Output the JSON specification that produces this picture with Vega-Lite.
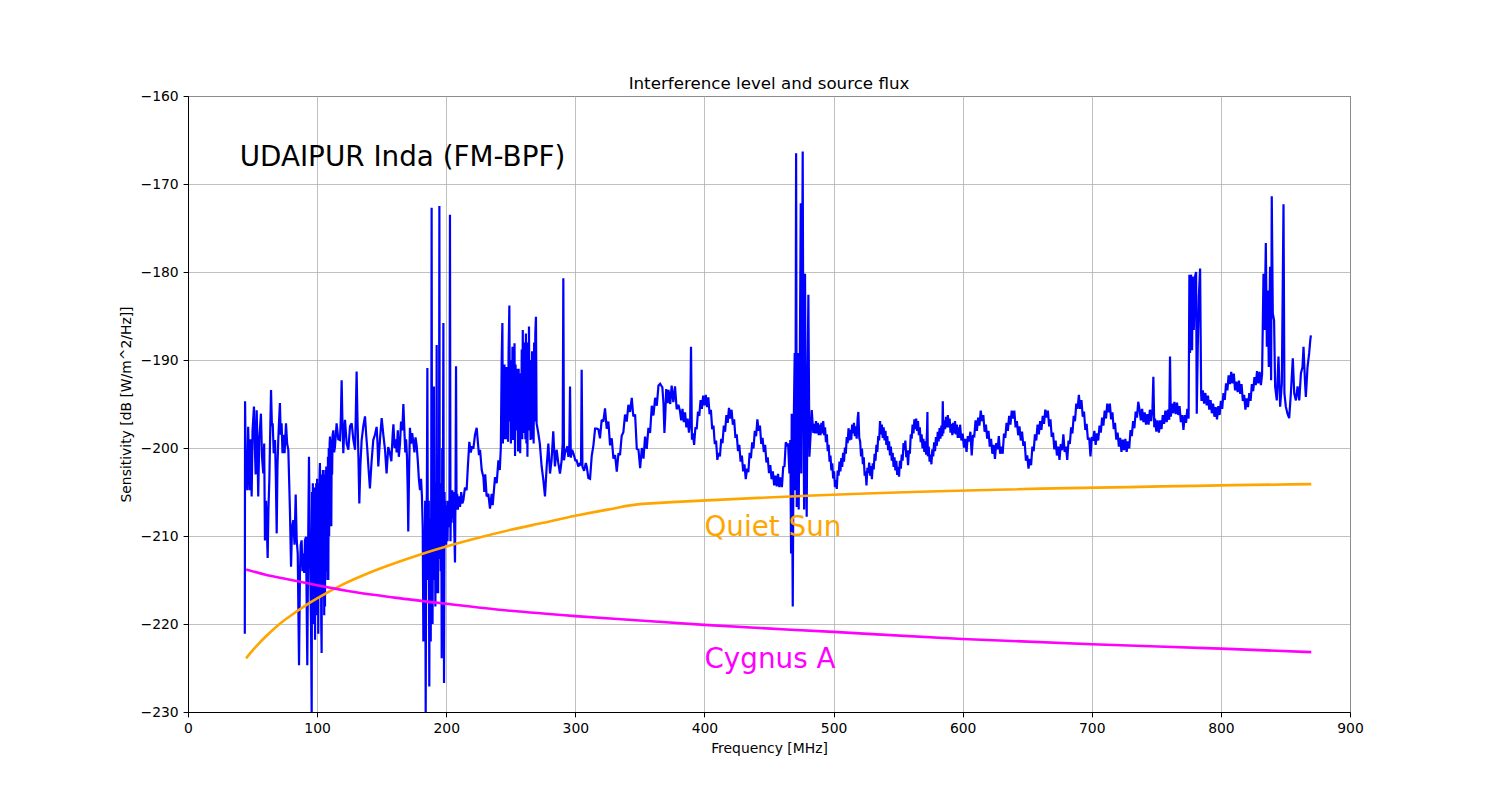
{
"$schema":"https://vega.github.io/schema/vega-lite/v6.json",
"width":1162,"height":616,
"autosize":{"type":"none"},
"padding":{"left":188,"top":96,"right":150,"bottom":88},
"background":"white",
"config":{"font":"DejaVu Sans","view":{"stroke":"black","strokeWidth":1}},
"title":{"text":"Interference level and source flux","fontSize":16.7,"fontWeight":"normal","color":"black","font":"DejaVu Sans","baseline":"alphabetic","offset":7,"dy":24},
"datasets":{
"blue":[
{"f":44.0,"v":-221.1},{"f":44.2,"v":-194.7},{"f":44.8,"v":-203},{"f":45.4,"v":-201.0},{"f":45.9,"v":-204.8},{"f":46.6,"v":-197.6},{"f":47.2,"v":-201.5},{"f":47.8,"v":-204.8},{"f":48.5,"v":-199},{"f":49.3,"v":-205.5},{"f":50.0,"v":-198},{"f":51.1,"v":-195.3},{"f":51.7,"v":-199.5},{"f":52.4,"v":-203},{"f":53.2,"v":-195.7},{"f":53.8,"v":-200},{"f":54.4,"v":-205.5},{"f":55.2,"v":-199},{"f":56.5,"v":-196.1},{"f":57.3,"v":-201},{"f":58.3,"v":-202.9},{"f":59.0,"v":-199.5},{"f":59.6,"v":-210.5},{"f":60.5,"v":-206},{"f":61.7,"v":-212.5},{"f":62.3,"v":-207},{"f":63.0,"v":-203.6},{"f":63.7,"v":-198},{"f":64.3,"v":-193.4},{"f":65.0,"v":-197.5},{"f":65.6,"v":-197.2},{"f":66.4,"v":-200.6},{"f":67.4,"v":-199.1},{"f":68.0,"v":-203},{"f":68.7,"v":-209.7},{"f":69.3,"v":-202},{"f":69.9,"v":-199.1},{"f":70.5,"v":-197},{"f":71.2,"v":-194.9},{"f":71.8,"v":-198.5},{"f":72.5,"v":-197.2},{"f":73.2,"v":-200.6},{"f":73.8,"v":-198.5},{"f":74.8,"v":-200.6},{"f":75.9,"v":-197.2},{"f":76.8,"v":-199.5},{"f":77.7,"v":-200.2},{"f":78.4,"v":-204},{"f":79.0,"v":-207.4},{"f":79.8,"v":-213.5},{"f":80.6,"v":-209},{"f":81.6,"v":-208.2},{"f":82.5,"v":-211},{"f":83.4,"v":-205.3},{"f":84.2,"v":-210.5},{"f":85.0,"v":-212},{"f":86.0,"v":-224.7},{"f":86.7,"v":-214.2},{"f":87.3,"v":-211},{"f":88.0,"v":-210.5},{"f":88.7,"v":-214},{"f":89.3,"v":-212},{"f":90.0,"v":-214.2},{"f":90.6,"v":-210.5},{"f":91.4,"v":-210.1},{"f":92.4,"v":-224.7},{"f":93.0,"v":-212},{"f":93.7,"v":-201},{"f":94.2,"v":-208},{"f":94.7,"v":-214.2},{"f":95.3,"v":-220},{"f":95.8,"v":-230.5},{"f":96.1,"v":-205},{"f":96.4,"v":-218},{"f":96.7,"v":-204},{"f":97.0,"v":-220},{"f":97.3,"v":-205.9},{"f":97.7,"v":-215},{"f":98.0,"v":-204.5},{"f":98.4,"v":-221.8},{"f":98.7,"v":-206},{"f":99.0,"v":-219},{"f":99.3,"v":-204},{"f":99.7,"v":-216},{"f":100.0,"v":-203.5},{"f":100.3,"v":-219},{"f":100.6,"v":-205},{"f":100.9,"v":-221.1},{"f":101.2,"v":-204},{"f":101.6,"v":-217},{"f":101.9,"v":-203},{"f":102.2,"v":-201.7},{"f":102.6,"v":-215},{"f":102.9,"v":-204},{"f":103.2,"v":-220},{"f":103.5,"v":-223.3},{"f":103.8,"v":-203},{"f":104.2,"v":-214},{"f":104.5,"v":-202.5},{"f":104.8,"v":-217},{"f":105.1,"v":-203},{"f":105.5,"v":-219},{"f":105.8,"v":-204},{"f":106.1,"v":-218},{"f":106.4,"v":-202.5},{"f":106.8,"v":-214},{"f":107.1,"v":-202.1},{"f":107.4,"v":-212},{"f":107.7,"v":-203},{"f":108.0,"v":-215},{"f":108.4,"v":-201},{"f":108.7,"v":-215},{"f":109.0,"v":-200},{"f":109.3,"v":-210},{"f":109.7,"v":-199.5},{"f":110.0,"v":-198.7},{"f":110.3,"v":-206},{"f":110.6,"v":-200},{"f":111.0,"v":-208.9},{"f":111.3,"v":-199},{"f":111.6,"v":-203},{"f":112.0,"v":-198.5},{"f":112.6,"v":-198},{"f":113.2,"v":-200.5},{"f":113.8,"v":-199.9},{"f":114.5,"v":-198.5},{"f":115.1,"v":-197.2},{"f":116.4,"v":-199},{"f":117.7,"v":-199.1},{"f":118.4,"v":-196.5},{"f":119.0,"v":-192.3},{"f":119.6,"v":-197},{"f":120.3,"v":-200.6},{"f":121.0,"v":-198},{"f":121.6,"v":-196.8},{"f":122.9,"v":-199.5},{"f":124.2,"v":-200.2},{"f":125.5,"v":-197.5},{"f":126.8,"v":-197.2},{"f":128.0,"v":-199},{"f":129.4,"v":-200.2},{"f":130.0,"v":-196},{"f":130.6,"v":-191.3},{"f":131.3,"v":-197},{"f":132.0,"v":-201},{"f":132.7,"v":-206.3},{"f":133.5,"v":-202},{"f":134.5,"v":-199.1},{"f":135.8,"v":-197.5},{"f":137.1,"v":-196.4},{"f":138.0,"v":-198.5},{"f":138.9,"v":-200.2},{"f":139.9,"v":-202.5},{"f":140.9,"v":-204.6},{"f":142.2,"v":-201.5},{"f":143.5,"v":-199.1},{"f":144.8,"v":-198.5},{"f":146.1,"v":-197.6},{"f":146.8,"v":-199.5},{"f":147.4,"v":-202.1},{"f":148.7,"v":-199},{"f":150.0,"v":-196.6},{"f":151.3,"v":-198.5},{"f":152.6,"v":-200.2},{"f":153.8,"v":-202.9},{"f":155.1,"v":-199.9},{"f":156.4,"v":-200.6},
{"f":157.5,"v":-201.5},{"f":158.5,"v":-198.5},{"f":159.1,"v":-197.3},{"f":160.0,"v":-200},{"f":161.0,"v":-199},{"f":161.6,"v":-200.5},{"f":162.5,"v":-198},{"f":163.3,"v":-201},{"f":164.2,"v":-199.5},{"f":165.0,"v":-197},{"f":166.0,"v":-198},{"f":166.8,"v":-195.0},{"f":167.6,"v":-198},{"f":168.3,"v":-200.5},{"f":168.9,"v":-199},{"f":169.6,"v":-201},{"f":170.2,"v":-205},{"f":170.6,"v":-209.5},{"f":171.2,"v":-203},{"f":171.9,"v":-197.7},{"f":172.8,"v":-199.5},{"f":173.6,"v":-198.3},{"f":174.5,"v":-199.3},{"f":175.4,"v":-200.5},{"f":176.2,"v":-198.8},{"f":177.1,"v":-199.7},{"f":178.0,"v":-201.5},{"f":178.8,"v":-203.5},{"f":179.7,"v":-204.8},{"f":180.5,"v":-203.5},{"f":181.2,"v":-205.5},{"f":181.8,"v":-209},{"f":182.3,"v":-222.0},{"f":182.8,"v":-212},{"f":183.3,"v":-214},{"f":183.7,"v":-206},{"f":184.1,"v":-230.5},{"f":184.5,"v":-210},{"f":185.0,"v":-205},{"f":185.4,"v":-190.9},{"f":185.7,"v":-208},{"f":186.0,"v":-215},{"f":186.5,"v":-206},{"f":186.9,"v":-227.1},{"f":187.2,"v":-208},{"f":187.5,"v":-218},{"f":188.0,"v":-222},{"f":188.4,"v":-205},{"f":188.7,"v":-172.7},{"f":189.0,"v":-208.7},{"f":189.4,"v":-220},{"f":189.8,"v":-206},{"f":190.2,"v":-215},{"f":190.5,"v":-193},{"f":190.8,"v":-212},{"f":191.2,"v":-204},{"f":191.6,"v":-218},{"f":192.0,"v":-205},{"f":192.3,"v":-216.5},{"f":192.6,"v":-188.3},{"f":192.9,"v":-214},{"f":193.3,"v":-206},{"f":193.7,"v":-216.5},{"f":194.0,"v":-203},{"f":194.4,"v":-210},{"f":194.7,"v":-172.5},{"f":195.0,"v":-212.6},{"f":195.4,"v":-205},{"f":195.8,"v":-214},{"f":196.2,"v":-204},{"f":196.5,"v":-223.9},{"f":196.9,"v":-200},{"f":197.2,"v":-209},{"f":197.5,"v":-202},{"f":197.8,"v":-185.8},{"f":198.1,"v":-212},{"f":198.3,"v":-226.7},{"f":198.7,"v":-205},{"f":199.0,"v":-210},{"f":199.5,"v":-206},{"f":200.0,"v":-211},{"f":200.5,"v":-206.5},{"f":201.0,"v":-210.6},{"f":201.5,"v":-206},{"f":202.0,"v":-209},{"f":202.5,"v":-207},{"f":202.9,"v":-173.5},{"f":203.3,"v":-210.6},{"f":203.7,"v":-205.5},{"f":204.2,"v":-208.5},{"f":204.7,"v":-204.8},{"f":205.2,"v":-208},{"f":205.7,"v":-205},{"f":206.2,"v":-209},{"f":206.8,"v":-213.0},{"f":207.2,"v":-205},{"f":207.6,"v":-190.7},{"f":208.0,"v":-207},{"f":208.5,"v":-205.2},{"f":209.0,"v":-207},{"f":209.8,"v":-205.5},{"f":210.7,"v":-206.7},{"f":211.6,"v":-205},{"f":212.5,"v":-206.3},{"f":213.3,"v":-205.9},{"f":214.5,"v":-204.5},{"f":215.8,"v":-204.8},{"f":216.8,"v":-202},{"f":217.9,"v":-199.3},{"f":219.0,"v":-200.5},{"f":220.0,"v":-199.8},{"f":221.0,"v":-200.1},{"f":222.3,"v":-198.5},{"f":223.6,"v":-197.7},{"f":224.6,"v":-199.5},{"f":225.4,"v":-200.8},
{"f":226.2,"v":-200.2},{"f":227.5,"v":-202.5},{"f":228.8,"v":-203.3},{"f":229.5,"v":-205},{"f":230.2,"v":-203},{"f":231.3,"v":-205.5},{"f":232.6,"v":-205.2},{"f":233.9,"v":-206.9},{"f":235.2,"v":-205.2},{"f":236.0,"v":-206.5},{"f":237.8,"v":-203.3},{"f":239.1,"v":-204},{"f":240.4,"v":-201.4},{"f":241.5,"v":-202.5},{"f":242.3,"v":-199.9},{"f":243.0,"v":-189.6},{"f":243.5,"v":-185.8},{"f":243.9,"v":-199.5},{"f":244.3,"v":-193.0},{"f":244.7,"v":-199},{"f":245.1,"v":-190.5},{"f":245.5,"v":-196.5},{"f":245.9,"v":-191},{"f":246.3,"v":-199},{"f":246.7,"v":-190.8},{"f":247.1,"v":-198.5},{"f":247.5,"v":-192},{"f":247.9,"v":-199.3},{"f":248.3,"v":-189},{"f":248.9,"v":-183.8},{"f":249.3,"v":-197},{"f":249.7,"v":-190},{"f":250.1,"v":-199.5},{"f":250.5,"v":-190},{"f":250.9,"v":-197.5},{"f":251.3,"v":-188.5},{"f":251.7,"v":-199.1},{"f":252.1,"v":-189.5},{"f":252.5,"v":-198},{"f":252.9,"v":-188.1},{"f":253.3,"v":-200.9},{"f":253.7,"v":-190.5},{"f":254.1,"v":-198},{"f":254.5,"v":-191},{"f":254.9,"v":-197.6},{"f":255.3,"v":-192},{"f":255.7,"v":-200.4},{"f":256.1,"v":-191},{"f":256.5,"v":-199},{"f":256.9,"v":-193},{"f":257.3,"v":-200.6},{"f":257.7,"v":-191.5},{"f":258.1,"v":-198},{"f":258.5,"v":-188.8},{"f":258.9,"v":-199},{"f":259.3,"v":-186.6},{"f":259.7,"v":-198},{"f":260.1,"v":-190},{"f":260.5,"v":-198.3},{"f":260.9,"v":-188},{"f":261.3,"v":-199},{"f":261.7,"v":-187},{"f":262.1,"v":-199.5},{"f":262.5,"v":-189},{"f":262.9,"v":-201.0},{"f":263.3,"v":-188},{"f":263.7,"v":-198},{"f":264.1,"v":-186.2},{"f":264.5,"v":-197.9},{"f":264.9,"v":-190},{"f":265.3,"v":-199.1},{"f":265.7,"v":-193.2},{"f":266.1,"v":-199},{"f":266.5,"v":-189},{"f":266.9,"v":-198},{"f":267.3,"v":-191},{"f":267.7,"v":-199.5},{"f":268.1,"v":-188},{"f":268.6,"v":-197},{"f":269.0,"v":-187},{"f":269.5,"v":-185.1},{"f":270.0,"v":-197.2},{"f":271.3,"v":-198.3},{"f":272.5,"v":-199.5},{"f":273.9,"v":-202.1},{"f":275.2,"v":-203.6},{"f":276.5,"v":-205.5},{"f":277.8,"v":-202.1},{"f":279.1,"v":-199.5},{"f":280.4,"v":-202.9},{"f":281.6,"v":-201.4},{"f":282.9,"v":-198.1},{"f":284.2,"v":-202.1},{"f":285.5,"v":-200.2},{"f":286.8,"v":-201.7},{"f":288.1,"v":-202.9},{"f":289.4,"v":-201.4},{"f":290.2,"v":-199.5},{"f":290.7,"v":-180.7},{"f":291.2,"v":-201.4},{"f":292.0,"v":-200.6},{"f":293.8,"v":-199.8},{"f":294.6,"v":-201},{"f":295.3,"v":-200.4},{"f":295.9,"v":-193.0},{"f":296.5,"v":-201.1},{"f":297.5,"v":-200.2},{"f":298.5,"v":-200.6},{"f":300.0,"v":-201.4},{"f":301.0,"v":-201.4},{"f":302.3,"v":-202.1},{"f":303.6,"v":-201.7},{"f":304.4,"v":-202},{"f":304.9,"v":-191.1},{"f":305.5,"v":-202.1},{"f":306.8,"v":-202.6},{"f":308.1,"v":-201.7},{"f":308.8,"v":-202.1},
{"f":310.1,"v":-203.4},{"f":311.4,"v":-203.5},{"f":312.7,"v":-200.9},{"f":314.0,"v":-199.7},{"f":315.3,"v":-197.8},{"f":316.6,"v":-197.8},{"f":317.9,"v":-197.9},{"f":319.1,"v":-198.9},{"f":320.4,"v":-196.8},{"f":321.7,"v":-197.0},{"f":323.0,"v":-195.5},{"f":324.3,"v":-197.8},{"f":325.6,"v":-197.0},{"f":326.9,"v":-199.7},{"f":328.2,"v":-198.9},{"f":329.5,"v":-201.2},{"f":330.8,"v":-200.8},{"f":332.1,"v":-202.7},{"f":333.4,"v":-200.6},{"f":334.6,"v":-200.8},{"f":335.9,"v":-198.6},{"f":337.2,"v":-198.2},{"f":338.5,"v":-196.2},{"f":339.8,"v":-197.0},{"f":341.1,"v":-195.1},{"f":342.4,"v":-195.9},{"f":343.7,"v":-194.3},{"f":344.9,"v":-196.4},{"f":346.3,"v":-196.2},{"f":347.6,"v":-200.1},{"f":348.9,"v":-200.2},{"f":350.2,"v":-202.3},{"f":351.5,"v":-200.0},{"f":352.8,"v":-201.2},{"f":354.0,"v":-198.7},{"f":355.3,"v":-200.1},{"f":356.6,"v":-197.7},{"f":357.9,"v":-198.3},{"f":359.2,"v":-195.2},{"f":360.5,"v":-196.3},{"f":361.8,"v":-194.3},{"f":363.1,"v":-195.2},{"f":364.4,"v":-192.9},{"f":365.7,"v":-192.7},{"f":366.5,"v":-192.9},{"f":367.4,"v":-193.1},{"f":368.3,"v":-195},{"f":369.0,"v":-198.3},{"f":369.6,"v":-196.5},{"f":370.4,"v":-193.3},{"f":371.5,"v":-194.9},{"f":372.2,"v":-193.4},{"f":373.5,"v":-195.0},{"f":374.6,"v":-192.9},{"f":375.9,"v":-194.8},{"f":377.2,"v":-193.0},{"f":378.5,"v":-195.6},{"f":379.8,"v":-195.1},
{"f":381,"v":-195.75},{"f":382,"v":-196.85},{"f":383,"v":-195.55},{"f":384,"v":-197.05},{"f":385,"v":-195.95},{"f":386,"v":-197.65},{"f":387,"v":-196.65},{"f":388,"v":-198.25},{"f":388.9,"v":-197.2},{"f":389.6,"v":-188.5},{"f":390.3,"v":-199.05},{"f":391,"v":-198.35},{"f":392,"v":-199.65},{"f":393,"v":-197.65},{"f":394,"v":-197.85},{"f":395,"v":-195.85},{"f":396,"v":-196.35},{"f":397,"v":-194.55},{"f":398,"v":-195.55},{"f":399,"v":-194.05},{"f":400,"v":-195.15},{"f":401,"v":-193.95},{"f":402,"v":-195.35},{"f":403,"v":-194.25},{"f":404,"v":-196.15},{"f":405,"v":-195.65},{"f":406,"v":-197.85},{"f":407,"v":-197.45},{"f":408,"v":-199.55},{"f":409,"v":-199.15},{"f":410,"v":-201.35},{"f":411,"v":-200.55},{"f":412,"v":-200.95},{"f":413,"v":-198.95},{"f":414,"v":-199.45},{"f":415,"v":-197.45},{"f":416,"v":-198.15},{"f":417,"v":-196.25},{"f":418,"v":-197.15},{"f":419,"v":-195.45},{"f":420,"v":-196.65},{"f":421,"v":-195.65},{"f":422,"v":-197.35},{"f":423,"v":-196.75},{"f":424,"v":-198.85},{"f":425,"v":-198.45},{"f":426,"v":-200.35},{"f":427,"v":-199.65},{"f":428,"v":-201.55},{"f":429,"v":-200.85},{"f":430,"v":-202.65},{"f":431,"v":-201.85},{"f":432,"v":-203.55},{"f":433,"v":-202.35},{"f":434,"v":-202.75},{"f":435,"v":-200.55},{"f":436,"v":-201.15},{"f":437,"v":-199.35},{"f":438,"v":-200.05},{"f":439,"v":-198.05},{"f":440,"v":-198.65},{"f":441,"v":-196.75},{"f":442,"v":-198.05},{"f":443,"v":-197.45},{"f":444,"v":-199.55},{"f":445,"v":-198.85},{"f":446,"v":-200.45},{"f":447,"v":-199.65},{"f":448,"v":-201.65},{"f":449,"v":-201.05},{"f":450,"v":-202.85},{"f":451,"v":-201.95},{"f":452,"v":-203.55},{"f":453,"v":-202.65},{"f":454,"v":-204.25},{"f":455,"v":-203.15},{"f":456,"v":-204.35},{"f":457,"v":-202.95},{"f":458,"v":-204.45},{"f":459,"v":-203.35},{"f":460,"v":-204.45},{"f":461,"v":-202.15},{"f":462,"v":-202.05},{"f":463,"v":-199.35},{"f":464,"v":-199.65},
{"f":464.8,"v":-199.5},{"f":465.8,"v":-202.9},{"f":466.5,"v":-199.1},{"f":467.1,"v":-212.0},{"f":467.6,"v":-196.1},{"f":468.4,"v":-218.0},{"f":469.0,"v":-199.1},{"f":469.9,"v":-189.2},{"f":470.4,"v":-204.8},{"f":471.0,"v":-166.5},{"f":471.5,"v":-206.7},{"f":472.3,"v":-189.2},{"f":473.0,"v":-207.0},{"f":473.8,"v":-191.9},{"f":474.6,"v":-172.2},{"f":475.0,"v":-202.9},{"f":476.1,"v":-166.3},{"f":476.6,"v":-191.5},{"f":477.2,"v":-207.0},{"f":477.9,"v":-180.2},{"f":478.5,"v":-199.1},{"f":479.2,"v":-207.8},{"f":479.9,"v":-191.5},{"f":480.5,"v":-182.6},{"f":481.3,"v":-201.0},{"f":482.3,"v":-198.3},{"f":483.1,"v":-195.7},{"f":484.3,"v":-198.3},
{"f":485.0,"v":-197.25},{"f":485.7,"v":-198.35},{"f":486.4,"v":-196.95},{"f":487.1,"v":-198.35},{"f":487.8,"v":-197.15},{"f":488.5,"v":-198.55},{"f":489.2,"v":-197.35},{"f":489.9,"v":-198.55},{"f":490.6,"v":-197.15},{"f":491.3,"v":-198.35},{"f":492.0,"v":-196.95},{"f":492.7,"v":-198.55},{"f":493.4,"v":-197.65},{"f":494.1,"v":-199.35},{"f":494.8,"v":-198.45},{"f":495.5,"v":-200.35},{"f":496.2,"v":-199.65},{"f":496.9,"v":-201.55},{"f":497.6,"v":-200.85},{"f":498.3,"v":-202.55},{"f":499.0,"v":-201.75},{"f":499.7,"v":-203.45},{"f":500.4,"v":-202.65},{"f":501.1,"v":-204.45},{"f":501.8,"v":-203.65},{"f":502.5,"v":-204.65},{"f":503.2,"v":-202.55},{"f":503.9,"v":-203.15},{"f":504.6,"v":-201.55},{"f":505.3,"v":-202.65},{"f":506.0,"v":-201.15},{"f":506.7,"v":-202.15},{"f":507.4,"v":-200.55},{"f":508.1,"v":-201.55},{"f":508.8,"v":-199.95},{"f":509.5,"v":-200.65},{"f":510.2,"v":-198.75},{"f":510.9,"v":-199.45},{"f":511.6,"v":-197.75},{"f":512.3,"v":-199.15},{"f":513.0,"v":-197.95},{"f":513.7,"v":-199.05},{"f":514.4,"v":-197.35},{"f":515.1,"v":-198.35},{"f":515.8,"v":-197.15},{"f":516.5,"v":-198.65},{"f":517.2,"v":-197.55},{"f":517.9,"v":-198.95},{"f":518.6,"v":-196.75},{"f":519.2,"v":-195.9},{"f":519.9,"v":-198.85},{"f":520.6,"v":-199.25},{"f":521.3,"v":-200.95},{"f":522.0,"v":-200.05},{"f":522.7,"v":-201.85},{"f":523.4,"v":-201.05},{"f":524.1,"v":-203.15},{"f":524.8,"v":-202.65},{"f":525.5,"v":-204.25},{"f":526.2,"v":-202.25},{"f":526.9,"v":-202.85},{"f":527.6,"v":-201.65},{"f":528.3,"v":-203.15},{"f":529.0,"v":-202.05},{"f":529.7,"v":-203.55},{"f":530.4,"v":-201.75},{"f":531.1,"v":-202.45},{"f":531.8,"v":-200.65},{"f":532.5,"v":-201.45},{"f":533.2,"v":-199.65},{"f":533.9,"v":-200.45},{"f":534.6,"v":-198.65},{"f":535.3,"v":-199.15},{"f":536.0,"v":-196.95},{"f":536.7,"v":-198.45},{"f":537.4,"v":-197.35},{"f":538.1,"v":-198.85},{"f":538.8,"v":-197.65},{"f":539.5,"v":-199.15},{"f":540.2,"v":-198.05},{"f":540.9,"v":-199.65},{"f":541.6,"v":-198.65},{"f":542.3,"v":-200.25},{"f":543.0,"v":-199.25},{"f":543.7,"v":-200.85},{"f":544.4,"v":-199.85},{"f":545.1,"v":-201.45},{"f":545.8,"v":-200.55},{"f":546.5,"v":-202.15},{"f":547.2,"v":-201.05},{"f":547.9,"v":-202.55},{"f":548.6,"v":-201.45},{"f":549.3,"v":-203.05},{"f":550.0,"v":-202.15},{"f":550.7,"v":-203.25},{"f":551.4,"v":-201.45},{"f":552.1,"v":-202.35},{"f":552.8,"v":-200.75},{"f":553.5,"v":-201.45},{"f":554.2,"v":-199.45},{"f":554.9,"v":-200.25},{"f":555.6,"v":-199.15},{"f":556.3,"v":-201.05},{"f":557.0,"v":-200.25},{"f":557.7,"v":-201.95},{"f":558.4,"v":-200.25},{"f":559.1,"v":-200.65},{"f":559.8,"v":-198.45},{"f":560.5,"v":-198.95},{"f":561.2,"v":-197.35},{"f":561.9,"v":-198.35},{"f":562.6,"v":-196.75},{"f":563.3,"v":-197.85},{"f":564.0,"v":-196.65},{"f":564.7,"v":-198.05},{"f":565.4,"v":-196.95},{"f":566.1,"v":-198.55},{"f":566.8,"v":-197.65},{"f":567.5,"v":-199.35},{"f":568.2,"v":-198.45},{"f":568.9,"v":-200.05},{"f":569.6,"v":-198.95},{"f":570.3,"v":-200.45},{"f":571.0,"v":-199.25},{"f":571.7,"v":-200.75},{"f":572.4,"v":-198.0},{"f":572.7,"v":-195.9},{"f":573.0,"v":-200.95},{"f":573.7,"v":-199.85},{"f":574.4,"v":-201.55},{"f":575.1,"v":-200.75},{"f":575.8,"v":-201.85},{"f":576.5,"v":-200.15},{"f":577.2,"v":-200.95},{"f":577.9,"v":-199.35},{"f":578.6,"v":-200.35},{"f":579.3,"v":-198.75},{"f":580.0,"v":-199.75},{"f":580.7,"v":-198.15},{"f":581.4,"v":-199.25},{"f":582.1,"v":-197.75},{"f":582.8,"v":-198.95},{"f":583.5,"v":-197.45},{"f":584.2,"v":-198.65},{"f":584.6,"v":-194.7},{"f":585.0,"v":-198.35},{"f":585.7,"v":-196.85},{"f":586.4,"v":-197.85},{"f":587.1,"v":-196.45},{"f":587.8,"v":-197.65},{"f":588.5,"v":-196.25},{"f":589.2,"v":-197.65},{"f":589.9,"v":-196.65},{"f":590.6,"v":-198.25},{"f":591.3,"v":-197.25},{"f":592.0,"v":-198.55},{"f":592.7,"v":-197.15},{"f":593.4,"v":-198.35},{"f":594.1,"v":-196.95},{"f":594.8,"v":-198.45},{"f":595.5,"v":-197.35},{"f":596.2,"v":-198.85},{"f":596.9,"v":-197.65},{"f":597.6,"v":-198.85},
{"f":598,"v":-197.35},{"f":599,"v":-199.15},{"f":600,"v":-198.35},{"f":601,"v":-199.95},{"f":602,"v":-198.95},{"f":603,"v":-200.45},{"f":604,"v":-198.65},{"f":605,"v":-199.25},{"f":606,"v":-198.15},{"f":607,"v":-200.85},{"f":608,"v":-198.55},{"f":609,"v":-198.65},{"f":610,"v":-196.85},{"f":611,"v":-198.05},{"f":612,"v":-196.55},{"f":613,"v":-197.45},{"f":614,"v":-195.75},{"f":615,"v":-196.95},{"f":616,"v":-196.25},{"f":617,"v":-198.15},{"f":618,"v":-197.35},{"f":619,"v":-198.95},{"f":620,"v":-198.05},{"f":621,"v":-199.85},{"f":622,"v":-198.95},{"f":623,"v":-200.65},{"f":624,"v":-199.65},{"f":625,"v":-201.25},{"f":626,"v":-199.45},{"f":627,"v":-200.15},{"f":628,"v":-198.65},{"f":629,"v":-200.65},{"f":630,"v":-199.85},{"f":631,"v":-200.65},{"f":632,"v":-198.35},{"f":633,"v":-198.85},{"f":634,"v":-197.15},{"f":635,"v":-198.05},{"f":636,"v":-196.35},{"f":637,"v":-197.35},{"f":638,"v":-195.75},{"f":639,"v":-196.65},{"f":640,"v":-195.75},{"f":641,"v":-197.65},{"f":642,"v":-196.95},{"f":643,"v":-198.55},{"f":644,"v":-197.55},{"f":645,"v":-199.15},{"f":646,"v":-198.15},{"f":647,"v":-199.75},{"f":648,"v":-199.25},{"f":649,"v":-201.45},{"f":650,"v":-200.85},{"f":651,"v":-202.35},{"f":652,"v":-201.25},{"f":653,"v":-201.95},{"f":654,"v":-199.85},{"f":655,"v":-200.35},{"f":656,"v":-198.45},{"f":657,"v":-199.15},{"f":658,"v":-197.35},{"f":659,"v":-198.45},{"f":660,"v":-196.95},{"f":661,"v":-197.95},{"f":662,"v":-196.35},{"f":663,"v":-197.25},{"f":664,"v":-195.65},{"f":665,"v":-196.55},{"f":666,"v":-195.75},{"f":667,"v":-197.55},{"f":668,"v":-196.75},{"f":669,"v":-198.75},{"f":670,"v":-198.25},{"f":671,"v":-200.15},{"f":672,"v":-199.15},{"f":673,"v":-200.85},{"f":674,"v":-199.85},{"f":675,"v":-201.35},{"f":676,"v":-199.55},{"f":677,"v":-200.25},{"f":678,"v":-198.45},{"f":679,"v":-200.45},{"f":680,"v":-199.85},{"f":681,"v":-201.35},{"f":682,"v":-199.15},{"f":683,"v":-199.55},{"f":684,"v":-197.65},{"f":685,"v":-198.35},{"f":686,"v":-196.35},{"f":687,"v":-196.95},{"f":688,"v":-194.95},{"f":689,"v":-195.55},{"f":690,"v":-193.95},{"f":691,"v":-195.55},{"f":692,"v":-194.55},{"f":693,"v":-196.45},{"f":694,"v":-195.85},{"f":695,"v":-197.95},{"f":696,"v":-197.25},{"f":697,"v":-199.05},{"f":698,"v":-198.85},{"f":699,"v":-200.95},{"f":700,"v":-198.75},{"f":701,"v":-199.15},{"f":702,"v":-198.05},{"f":703,"v":-199.65},{"f":704,"v":-198.35},{"f":705,"v":-199.15},{"f":706,"v":-197.45},{"f":707,"v":-198.25},{"f":708,"v":-196.55},{"f":709,"v":-197.45},{"f":710,"v":-195.75},{"f":711,"v":-196.65},{"f":712,"v":-194.95},{"f":713,"v":-195.95},{"f":714,"v":-194.95},{"f":715,"v":-196.75},{"f":716,"v":-195.95},{"f":717,"v":-197.85},{"f":718,"v":-197.15},{"f":719,"v":-199.05},{"f":720,"v":-198.25},{"f":721,"v":-199.85},{"f":722,"v":-198.85},{"f":723,"v":-200.45},{"f":724,"v":-199.05},{"f":725,"v":-200.25},{"f":726,"v":-198.95},{"f":727,"v":-200.45},{"f":728,"v":-199.25},{"f":729,"v":-200.05},{"f":730,"v":-197.95},{"f":731,"v":-198.65},{"f":732,"v":-196.95},{"f":733,"v":-197.75},{"f":734,"v":-195.85},{"f":735,"v":-196.55},{"f":736,"v":-194.75},{"f":737,"v":-195.65},
{"f":738,"v":-196.85},{"f":739,"v":-195.55},{"f":740,"v":-197.05},{"f":741,"v":-195.95},{"f":742,"v":-197.35},{"f":743,"v":-196.15},{"f":744,"v":-197.35},{"f":745,"v":-195.65},{"f":746,"v":-196.95},{"f":747.0,"v":-195.5},{"f":747.7,"v":-191.9},{"f":748.4,"v":-197.65},{"f":749,"v":-196.65},{"f":750,"v":-198.15},{"f":751,"v":-196.85},{"f":752,"v":-198.25},{"f":753,"v":-196.85},{"f":754,"v":-197.85},{"f":755,"v":-196.25},{"f":756,"v":-197.25},{"f":757,"v":-195.75},{"f":758,"v":-197.05},{"f":759,"v":-195.65},{"f":760.0,"v":-196.8},{"f":760.6,"v":-189.6},{"f":761.2,"v":-196.45},{"f":762,"v":-194.95},{"f":763,"v":-196.05},{"f":764,"v":-194.75},{"f":765,"v":-196.15},{"f":766,"v":-194.85},{"f":767,"v":-196.25},{"f":768,"v":-195.25},{"f":769,"v":-197.05},{"f":770,"v":-196.25},{"f":771,"v":-197.95},{"f":772,"v":-196.25},{"f":773,"v":-197.15},{"f":774,"v":-195.55},{"f":775,"v":-196.65},
{"f":775.6,"v":-180.3},{"f":776.1,"v":-189.2},{"f":776.9,"v":-180.3},{"f":777.7,"v":-188.9},{"f":778.2,"v":-180.5},{"f":779.0,"v":-186.6},{"f":780.0,"v":-180.5},{"f":780.8,"v":-180.0},{"f":781.3,"v":-196.1},{"f":782.1,"v":-188.5},{"f":782.9,"v":-182.9},{"f":783.9,"v":-179.6},{"f":784.7,"v":-193.8},
{"f":785,"v":-194.65},{"f":786,"v":-193.45},{"f":787,"v":-194.95},{"f":788,"v":-193.75},{"f":789,"v":-195.15},{"f":790,"v":-194.05},{"f":791,"v":-195.65},{"f":792,"v":-194.55},{"f":793,"v":-196.05},{"f":794,"v":-194.95},{"f":795,"v":-196.45},{"f":796,"v":-195.35},{"f":797,"v":-196.75},{"f":798,"v":-195.25},{"f":799,"v":-196.25},{"f":800,"v":-194.65},{"f":801,"v":-195.55},{"f":802,"v":-193.75},{"f":803,"v":-194.55},{"f":804,"v":-192.65},{"f":805,"v":-193.45},{"f":806,"v":-191.75},{"f":807,"v":-192.75},{"f":808,"v":-191.35},{"f":809,"v":-192.65},{"f":810,"v":-191.55},{"f":811,"v":-193.45},{"f":812,"v":-192.45},{"f":813,"v":-193.65},{"f":814,"v":-192.35},{"f":815,"v":-193.85},{"f":816,"v":-192.75},{"f":817,"v":-194.65},{"f":818,"v":-193.95},{"f":819,"v":-195.65},{"f":820,"v":-194.35},{"f":821,"v":-195.35},{"f":822,"v":-193.75},{"f":823,"v":-194.65},{"f":824,"v":-192.75},{"f":825,"v":-193.55},{"f":826,"v":-191.95},{"f":827,"v":-192.85},{"f":828,"v":-191.25},{"f":829,"v":-192.65},{"f":830,"v":-191.35},{"f":831,"v":-192.85},{"f":831.9,"v":-191.6},
{"f":832.5,"v":-185.5},{"f":833.0,"v":-180.2},{"f":833.8,"v":-186.6},{"f":834.8,"v":-176.7},{"f":835.6,"v":-188.5},{"f":836.3,"v":-182.1},{"f":837.1,"v":-190.8},{"f":838.1,"v":-179.4},{"f":838.9,"v":-192.3},{"f":839.4,"v":-171.4},{"f":840.2,"v":-184.7},{"f":841.2,"v":-185.5},{"f":842.0,"v":-193.0},{"f":843.3,"v":-194.6},{"f":844.6,"v":-189.6},{"f":845.9,"v":-195.3},{"f":847.2,"v":-192.7},{"f":848.5,"v":-172.3},{"f":849.2,"v":-193.8},{"f":850.3,"v":-195.3},{"f":851.6,"v":-196.1},{"f":852.9,"v":-196.6},{"f":854.2,"v":-193.8},{"f":855.7,"v":-189.8},{"f":856.8,"v":-193.8},{"f":858.1,"v":-194.6},{"f":859.4,"v":-193.0},{"f":860.7,"v":-194.6},{"f":862.0,"v":-191.5},{"f":863.2,"v":-190.8},{"f":864.0,"v":-188.5},{"f":865.1,"v":-192.3},{"f":865.8,"v":-194.2},{"f":867.1,"v":-190.8},{"f":868.4,"v":-189.2},{"f":869.2,"v":-187.8},{"f":869.7,"v":-187.2}
],
"sun":[
{"f":45,"v":-223.9},{"f":50,"v":-223.0},{"f":55,"v":-222.2},{"f":60,"v":-221.45},{"f":70,"v":-220.1},{"f":80,"v":-219.0},{"f":90,"v":-218.0},{"f":100,"v":-217.1},{"f":120,"v":-215.5},{"f":140,"v":-214.2},{"f":160,"v":-213.1},{"f":180,"v":-212.1},{"f":200,"v":-211.2},{"f":225,"v":-210.2},{"f":250,"v":-209.3},{"f":275,"v":-208.5},{"f":300,"v":-207.7},{"f":325,"v":-207.0},{"f":352,"v":-206.35},{"f":870,"v":-204.1}
],
"cyg":[
{"f":45,"v":-213.8},{"f":60,"v":-214.4},{"f":80,"v":-215.0},{"f":100,"v":-215.6},{"f":130,"v":-216.4},{"f":160,"v":-217.0},{"f":200,"v":-217.7},{"f":250,"v":-218.5},{"f":300,"v":-219.1},{"f":350,"v":-219.6},{"f":400,"v":-220.1},{"f":500,"v":-220.9},{"f":600,"v":-221.7},{"f":700,"v":-222.3},{"f":800,"v":-222.8},{"f":870,"v":-223.2}
]
},
"encoding":{
"x":{"field":"f","type":"quantitative","scale":{"domain":[0,900],"nice":false,"zero":false},
"axis":{"title":"Frequency [MHz]","values":[0,100,200,300,400,500,600,700,800,900],"grid":true,"gridColor":"#b0b0b0","gridWidth":0.8,"domainColor":"black","domainWidth":1,"tickColor":"black","tickSize":4.9,"tickWidth":1,"labelFontSize":13.9,"labelColor":"black","labelPadding":4.9,"labelFont":"DejaVu Sans","titleFont":"DejaVu Sans","titleFontSize":13.9,"titleFontWeight":"normal","titleColor":"black","titlePadding":5.6,"labelFlush":false}},
"y":{"field":"v","type":"quantitative","scale":{"domain":[-230,-160],"nice":false,"zero":false},
"axis":{"title":"Sensitivity [dB [W/m^2/Hz]]","values":[-230,-220,-210,-200,-190,-180,-170,-160],"labelExpr":"replace(datum.label, '-', '−')","grid":true,"gridColor":"#b0b0b0","gridWidth":0.8,"domainColor":"black","domainWidth":1,"tickColor":"black","tickSize":4.9,"tickWidth":1,"labelFontSize":13.9,"labelColor":"black","labelPadding":4.9,"labelFont":"DejaVu Sans","titleFont":"DejaVu Sans","titleFontSize":13.9,"titleFontWeight":"normal","titleColor":"black","titlePadding":7,"labelFlush":false}}
},
"layer":[
{"data":{"name":"blue"},"mark":{"type":"line","color":"#0000ff","strokeWidth":2.2,"clip":true,"strokeJoin":"miter","strokeMiterLimit":2}},
{"data":{"name":"sun"},"mark":{"type":"line","color":"#ffa500","strokeWidth":2.6,"interpolate":"monotone","clip":true}},
{"data":{"name":"cyg"},"mark":{"type":"line","color":"#ff00ff","strokeWidth":2.6,"interpolate":"monotone","clip":true}},
{"data":{"values":[{"f":40,"v":-168,"t":"UDAIPUR Inda (FM-BPF)"}]},"mark":{"type":"text","align":"left","baseline":"alphabetic","fontSize":27.8,"font":"DejaVu Sans","color":"black"},"encoding":{"text":{"field":"t"}}},
{"data":{"values":[{"f":400,"v":-210,"t":"Quiet Sun"}]},"mark":{"type":"text","align":"left","baseline":"alphabetic","fontSize":27.8,"font":"DejaVu Sans","color":"#ffa500"},"encoding":{"text":{"field":"t"}}},
{"data":{"values":[{"f":400,"v":-225,"t":"Cygnus A"}]},"mark":{"type":"text","align":"left","baseline":"alphabetic","fontSize":27.8,"font":"DejaVu Sans","color":"#ff00ff"},"encoding":{"text":{"field":"t"}}}
]
}
